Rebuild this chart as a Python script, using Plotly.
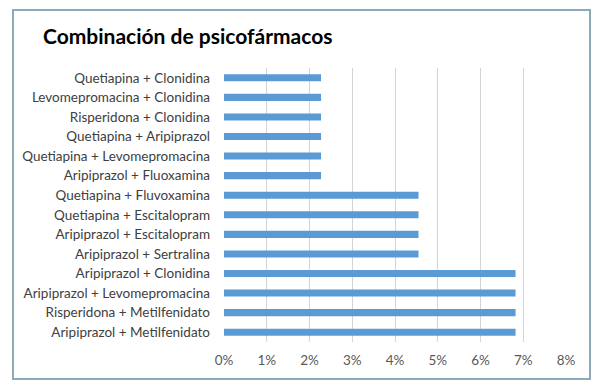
import plotly.graph_objects as go

categories = [
    "Aripiprazol + Metilfenidato",
    "Risperidona + Metilfenidato",
    "Aripiprazol + Levomepromacina",
    "Aripiprazol + Clonidina",
    "Aripiprazol + Sertralina",
    "Aripiprazol + Escitalopram",
    "Quetiapina + Escitalopram",
    "Quetiapina + Fluvoxamina",
    "Aripiprazol + Fluoxamina",
    "Quetiapina + Levomepromacina",
    "Quetiapina + Aripiprazol",
    "Risperidona + Clonidina",
    "Levomepromacina + Clonidina",
    "Quetiapina + Clonidina",
]
values = [0.0682, 0.0682, 0.0682, 0.0682,
          0.0455, 0.0455, 0.0455, 0.0455,
          0.0227, 0.0227, 0.0227, 0.0227, 0.0227, 0.0227]
x_ticks = [0, 0.01, 0.02, 0.03, 0.04, 0.05, 0.06, 0.07, 0.08]

W, H = 602, 384
L, R, T, B = 224, 36, 68, 42
pw = W - L - R
ph = H - T - B

def px_x(p):
    return (p - L) / pw

def px_y(p):
    return (H - B - p) / ph

FONT = "Lato, Liberation Sans, Arial, sans-serif"

fig = go.Figure(go.Bar(
    x=values, y=categories, orientation="h",
    marker=dict(color="#5b9bd5", line=dict(width=0)),
    width=0.36,
))

fig.update_layout(
    width=W, height=H,
    margin=dict(l=L, r=R, t=T, b=B),
    paper_bgcolor="white", plot_bgcolor="white",
    font=dict(family=FONT, size=13.5, color="#595959"),
    showlegend=False,
    xaxis=dict(
        range=[0, 0.08], tickvals=x_ticks, tickformat=".0%",
        showgrid=True, gridcolor="#d4d4d4", gridwidth=1,
        zeroline=False, showline=False, ticks="",
        ticklabelstandoff=8,
        tickfont=dict(size=13.5, color="#595959"),
    ),
    yaxis=dict(
        categoryorder="array", categoryarray=categories,
        showgrid=False, zeroline=False, showline=False, ticks="",
        ticklabelstandoff=13,
        tickfont=dict(size=13.5, color="#404040"),
    ),
    shapes=[dict(
        type="rect", xref="paper", yref="paper",
        x0=px_x(13), x1=px_x(590), y0=px_y(379), y1=px_y(10),
        line=dict(color="#8eaab9", width=2), fillcolor="rgba(0,0,0,0)",
    )],
    annotations=[dict(
        text="<b>Combinación de psicofármacos</b>",
        xref="paper", yref="paper", x=px_x(41), y=px_y(36),
        xanchor="left", yanchor="middle", showarrow=False,
        font=dict(family=FONT, size=21, color="black"),
    )],
)

fig.write_html("out.html", config={"displayModeBar": False},
               post_script="document.body.style.margin='0';")
